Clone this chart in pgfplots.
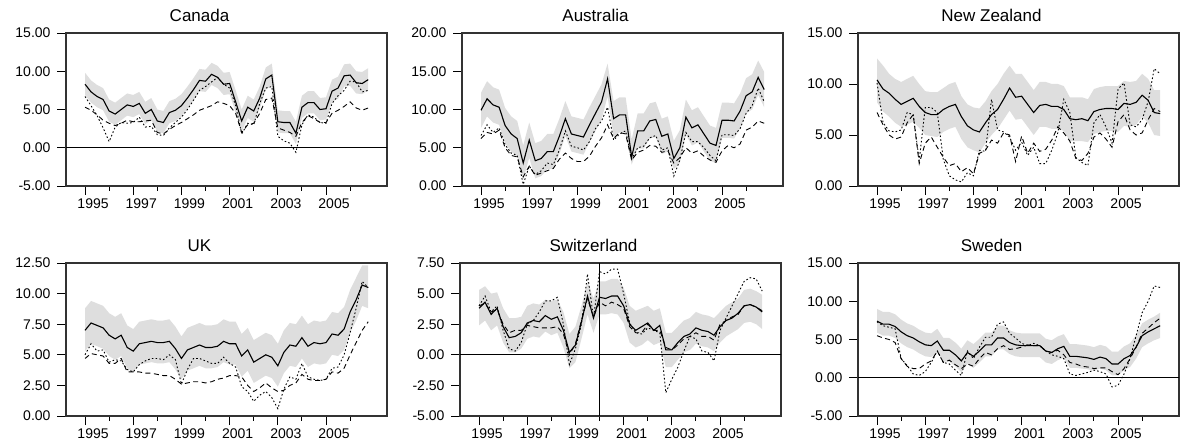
\documentclass[border=0pt]{standalone}
\usepackage{pgfplots}
\pgfplotsset{compat=1.18}
\usepackage{pgfplotstable}
\usepgfplotslibrary{fillbetween}
\usepackage{fontspec}
\setmainfont{Liberation Sans}

% quarterly data 1995Q1 - 2006Q4: band (lo, hi), solid (s), dashed (d), dotted (p)
\pgfplotstableread{
lo hi s d p
6.9 9.8 8.3 5.3 6.7
5.9 8.8 7.3 4.9 5.5
5.3 8.2 6.7 4.3 4.2
4.9 7.8 6.3 3.6 2.6
3.4 6.3 4.8 3.2 0.8
3.0 5.9 4.4 2.9 2.7
3.6 6.5 5.0 3.2 3.3
4.2 7.1 5.6 3.6 3.2
4.0 6.9 5.4 3.4 3.3
4.4 7.3 5.8 3.4 4.0
3.1 6.0 4.5 3.5 2.7
3.6 6.5 5.0 3.6 2.8
2.1 5.0 3.5 2.0 1.7
1.9 4.8 3.3 1.8 1.6
3.2 6.1 4.6 2.4 2.6
3.5 6.4 4.9 2.9 3.3
4.1 7.0 5.5 3.3 4.0
5.1 8.0 6.5 3.8 5.0
6.2 9.1 7.6 4.3 6.2
7.4 10.3 8.8 4.9 7.5
7.3 10.2 8.7 5.2 8.0
8.2 11.1 9.6 5.5 8.6
7.8 10.7 9.2 6.0 9.2
6.9 9.8 8.3 5.8 8.3
7.0 9.9 8.4 5.5 7.8
4.6 7.5 6.0 4.5 5.5
2.1 5.0 3.5 2.0 1.8
3.9 6.8 5.3 3.0 3.2
3.4 6.3 4.8 3.2 3.0
5.1 8.0 6.5 4.5 5.8
7.6 10.5 9.0 6.3 7.8
8.1 11.0 9.5 6.5 8.0
2.0 4.9 3.4 2.6 1.5
1.9 4.8 3.3 2.3 0.9
1.9 4.8 3.3 2.0 0.6
0.5 3.4 1.9 1.5 -0.6
3.9 6.8 5.3 3.3 3.0
4.5 7.4 5.9 4.2 4.3
4.5 7.4 5.9 3.8 4.0
3.6 6.5 5.0 3.3 3.3
3.7 6.6 5.1 3.3 3.2
6.0 8.9 7.4 4.5 5.8
6.4 9.3 7.8 4.9 6.8
8.0 10.9 9.4 5.4 7.5
8.1 11.0 9.5 6.0 8.7
7.1 10.0 8.5 5.2 8.6
7.0 9.9 8.4 4.9 7.3
7.5 10.4 8.9 5.2 7.5
}\canada

\pgfplotstableread{
lo hi s d p
7.6 12.2 9.9 6.2 6.6
9.1 13.7 11.4 7.0 8.0
8.3 12.9 10.6 6.8 7.0
8.0 12.6 10.3 7.3 7.6
5.6 10.2 7.9 5.0 5.4
4.5 9.1 6.8 4.0 4.3
3.9 8.5 6.2 3.8 4.0
0.8 5.3 3.0 1.2 0.2
3.7 8.3 6.0 2.6 2.6
1.0 5.6 3.3 1.4 1.5
1.3 5.9 3.6 1.7 2.0
2.2 6.8 4.5 2.0 3.0
2.2 6.8 4.5 2.3 2.8
4.2 8.8 6.5 3.5 4.7
6.5 11.1 8.8 4.3 7.2
4.5 9.1 6.8 3.6 5.2
4.3 8.9 6.6 3.2 5.0
4.1 8.7 6.4 3.2 4.7
5.7 10.3 8.0 3.9 5.8
7.2 11.8 9.5 5.2 7.5
8.7 13.3 11.0 6.3 8.5
11.7 16.0 14.0 8.0 10.3
6.5 11.1 8.8 6.2 6.0
7.0 11.6 9.3 7.0 6.8
7.0 11.6 9.3 6.8 7.2
2.8 6.1 3.8 3.4 3.5
4.9 9.5 7.2 4.4 5.0
4.9 9.5 7.2 4.7 5.2
6.2 10.8 8.5 5.3 6.3
6.4 11.0 8.7 5.2 6.6
4.2 8.8 6.5 4.4 4.7
4.5 9.1 6.8 4.6 5.0
2.2 5.9 3.6 3.0 1.3
3.0 7.3 5.0 3.7 3.4
6.7 11.3 9.0 5.0 7.0
5.3 9.9 7.6 4.3 5.8
5.7 10.3 8.0 4.6 5.8
4.5 9.1 6.8 3.9 5.0
3.3 7.9 5.6 3.4 4.0
3.0 7.6 5.3 3.1 3.3
6.3 10.9 8.6 4.6 6.7
6.3 10.9 8.6 5.3 6.7
6.2 10.8 8.5 5.0 6.6
7.5 12.1 9.8 5.5 7.5
9.5 14.1 11.8 7.3 9.5
10.0 14.6 12.3 7.7 10.5
11.9 16.4 14.2 8.5 12.8
10.3 14.9 12.6 8.2 11.0
}\australia

\pgfplotstableread{
lo hi s d p
8.2 12.5 10.4 7.2 10.1
7.3 11.8 9.5 6.0 6.2
6.8 11.0 9.1 5.0 5.4
6.2 10.5 8.5 4.6 5.3
5.8 10.2 8.0 4.8 5.5
6.0 10.5 8.3 6.2 7.2
6.3 10.8 8.6 7.0 7.0
5.7 10.0 7.8 2.2 2.5
5.0 9.3 7.2 4.2 7.7
4.9 9.2 7.0 4.8 7.7
4.8 9.2 7.0 3.8 7.2
5.3 9.6 7.5 2.8 2.6
5.6 10.0 7.8 2.0 1.0
5.8 10.2 8.0 2.2 0.6
4.6 8.8 6.8 1.4 0.4
3.8 8.0 5.9 1.8 1.3
3.5 7.7 5.5 1.2 1.0
3.3 7.6 5.3 3.2 3.5
4.2 8.3 6.2 3.5 3.4
5.0 9.3 7.0 4.5 8.5
5.6 10.0 7.5 4.2 5.5
6.5 11.0 8.5 5.2 5.3
7.4 11.8 9.6 5.0 4.8
6.5 11.0 8.7 2.4 3.5
6.6 11.0 8.8 4.9 4.3
5.8 10.2 8.0 3.2 3.0
5.0 9.4 7.2 4.2 3.8
5.8 10.2 7.9 3.4 2.2
5.8 10.2 8.0 3.6 2.2
5.6 10.0 7.8 4.5 3.5
5.6 10.0 7.8 5.8 5.2
5.4 9.8 7.5 5.2 8.5
4.4 8.7 6.6 4.4 7.2
4.4 8.7 6.5 2.7 2.8
4.4 8.7 6.6 2.5 2.3
4.3 8.5 6.4 3.2 2.0
5.1 9.5 7.3 4.8 6.2
5.3 9.7 7.5 5.2 7.0
5.4 9.8 7.6 4.6 5.8
5.4 9.8 7.6 3.8 4.2
5.3 9.8 7.5 6.3 9.5
5.9 10.3 8.1 7.0 10.1
5.8 10.2 8.0 5.5 6.0
6.0 10.3 8.2 5.0 5.8
6.8 11.0 8.9 5.2 6.5
6.2 10.5 8.4 6.5 8.3
5.0 9.4 7.2 7.6 11.5
4.9 9.4 7.1 7.3 11.0
}\newzealand

\pgfplotstableread{
lo hi s d p
5.3 8.8 7.0 4.7 5.0
5.9 9.4 7.6 5.1 5.9
5.7 9.2 7.4 5.0 5.3
5.5 9.0 7.2 4.9 5.4
4.9 8.4 6.6 4.3 4.4
4.6 8.1 6.3 4.3 4.6
4.9 8.4 6.6 4.7 4.5
3.9 7.4 5.6 3.6 3.8
3.6 7.1 5.3 3.6 3.6
4.2 7.7 5.9 3.6 4.2
4.3 7.8 6.0 3.5 4.5
4.4 7.9 6.1 3.5 4.7
4.3 7.8 6.0 3.4 4.7
4.3 7.8 6.0 3.3 4.6
4.4 7.9 6.1 3.3 5.0
3.8 7.3 5.5 3.0 4.6
3.0 6.5 4.7 2.6 2.6
3.7 7.2 5.4 2.7 3.8
3.9 7.4 5.6 2.8 4.7
4.1 7.6 5.8 2.8 4.7
3.9 7.4 5.6 2.7 4.5
3.9 7.4 5.6 2.8 4.3
4.0 7.5 5.7 3.0 4.3
4.4 7.9 6.1 3.1 4.8
4.2 7.7 5.9 3.3 4.3
4.2 7.7 5.9 3.3 4.0
3.2 6.7 4.9 3.2 2.4
3.7 7.2 5.4 2.5 2.0
2.7 6.2 4.4 2.0 1.2
3.0 6.5 4.7 2.3 1.7
3.3 6.8 5.0 2.7 2.0
3.1 6.6 4.8 2.3 1.5
2.4 5.9 4.1 2.0 0.6
3.5 7.0 5.2 2.1 2.2
4.1 7.6 5.8 2.5 3.2
4.0 7.5 5.7 2.7 3.0
4.7 8.2 6.4 3.4 4.3
4.0 7.5 5.7 3.0 3.2
4.3 7.8 6.0 2.9 3.0
4.2 7.7 5.9 2.9 2.9
4.3 7.8 6.0 3.0 3.0
5.0 8.5 6.7 3.6 3.9
4.9 8.4 6.6 3.5 4.0
5.4 8.9 7.1 3.9 5.0
6.8 10.3 8.5 5.0 6.8
7.8 11.3 9.5 6.0 8.8
9.0 12.3 10.7 7.0 11.0
8.8 12.3 10.5 7.7 10.5
}\uk

\pgfplotstableread{
lo hi s d p
2.4 5.3 3.8 4.0 4.0
2.8 5.6 4.3 4.2 4.8
2.0 5.0 3.3 3.5 3.5
2.4 5.1 3.8 3.7 4.0
1.0 3.8 2.3 2.5 2.0
0.2 3.0 1.4 1.8 0.5
0.2 3.0 1.5 2.0 0.3
0.5 3.1 1.8 2.0 1.0
1.3 4.0 2.6 2.4 2.5
1.5 4.2 2.8 2.3 2.8
1.4 4.1 2.7 2.2 3.5
1.9 4.5 3.2 2.2 4.4
1.6 4.4 2.9 2.2 4.4
1.8 4.5 3.1 2.3 4.7
0.6 3.5 2.0 1.7 2.5
-1.1 1.7 0.2 0.0 -0.8
-0.6 2.3 0.8 0.9 0.5
1.3 4.0 2.7 2.8 2.5
3.3 6.0 4.8 4.6 6.6
1.8 4.6 3.0 3.1 3.0
3.3 6.0 4.7 4.3 6.8
3.3 6.0 4.6 4.0 6.6
3.4 6.2 4.8 4.3 7.0
3.3 6.2 4.8 4.1 7.0
2.6 5.5 4.0 3.8 5.0
1.0 4.0 2.5 2.3 2.6
0.6 3.6 2.0 1.8 1.8
0.8 3.8 2.3 1.8 1.7
1.2 4.0 2.6 2.5 2.2
0.8 3.6 2.0 2.0 2.0
1.0 3.8 2.4 2.0 1.8
-1.0 1.8 0.4 0.6 -3.1
-1.0 1.8 0.4 0.4 -2.0
-0.4 2.3 1.0 0.8 -1.0
0.2 2.8 1.5 1.3 0.3
0.4 3.0 1.7 1.5 1.5
0.9 3.5 2.2 1.8 1.3
0.7 3.3 2.0 1.5 0.3
0.6 3.2 1.9 1.5 0.2
0.3 3.0 1.6 1.2 -0.5
1.0 3.5 2.3 2.5 2.0
1.5 4.0 2.8 2.8 3.0
1.8 4.3 3.0 3.1 4.0
2.1 4.6 3.4 3.3 5.0
2.6 5.3 4.0 4.0 6.0
2.7 5.4 4.1 4.1 6.3
2.5 5.2 3.9 3.9 6.2
2.1 4.9 3.5 3.6 5.2
}\switzerland

\pgfplotstableread{
lo hi s d p
5.9 9.0 7.4 5.5 7.3
5.5 8.6 7.0 5.2 6.8
5.5 8.6 7.0 5.0 6.6
5.2 8.3 6.7 4.6 6.4
4.5 7.6 6.0 2.5 2.5
4.0 7.1 5.5 1.5 1.6
3.7 6.8 5.2 1.2 0.5
3.2 6.3 4.7 1.2 0.3
2.8 5.9 4.3 1.8 0.8
2.7 5.8 4.2 2.2 2.0
3.3 6.4 4.8 3.5 3.5
2.1 5.2 3.6 2.0 2.0
2.1 5.2 3.6 2.3 1.8
1.5 4.6 3.0 1.7 1.0
0.7 3.8 2.2 1.2 0.3
1.8 4.9 3.3 1.8 3.5
1.3 4.4 2.8 1.5 2.5
2.0 5.1 3.5 2.5 4.0
2.8 5.9 4.3 3.3 5.3
2.8 5.9 4.3 3.0 5.3
3.7 6.8 5.2 3.8 7.0
3.7 6.8 5.2 4.2 7.3
3.1 6.2 4.6 3.7 5.8
2.8 5.9 4.3 3.8 5.2
2.7 5.8 4.2 4.0 4.5
2.7 5.8 4.2 4.3 4.2
2.7 5.8 4.2 4.2 4.5
2.7 5.8 4.2 4.2 4.2
2.0 5.1 3.5 3.5 3.5
1.8 4.9 3.3 3.3 3.0
2.3 5.4 3.8 3.6 2.8
2.6 5.7 4.1 3.0 2.5
1.3 4.4 2.8 2.0 0.5
1.3 4.4 2.8 1.8 0.3
1.2 4.3 2.7 1.5 0.5
1.1 4.2 2.6 1.4 0.7
0.9 4.0 2.4 1.2 1.0
1.2 4.3 2.7 1.3 0.8
1.0 4.1 2.5 1.3 0.5
0.3 3.4 1.8 0.8 -1.2
0.3 3.4 1.8 0.4 -1.0
1.0 4.1 2.5 1.2 0.5
1.4 4.5 2.9 2.5 2.5
2.5 5.6 4.0 4.0 5.5
4.0 7.1 5.5 5.8 8.5
4.5 7.6 6.0 6.5 10.0
4.9 8.0 6.4 7.2 12.0
5.2 8.5 6.8 7.8 11.8
}\sweden

\pgfplotsset{
  panel/.style={
    scale only axis, width=321pt, height=153pt, anchor=south west,
    xmin=1994.21, xmax=2007.53,
    xtick={1995,1997,...,2005}, minor xtick={1996,1998,...,2006},
    tick pos=left, tick align=outside,
    major tick length=9pt, minor tick length=5pt,
    every tick/.style={black, line width=0.9pt},
    axis line style={black!80, line width=1.1pt},
    /pgf/number format/assume math mode=true,
    tick label style={font=\fontsize{14}{16}\selectfont, black},
    xticklabel style={xshift=8pt, /pgf/number format/1000 sep={}},
    yticklabel style={xshift=-3pt, /pgf/number format/.cd, fixed, fixed zerofill, precision=2},
    title style={font=\fontsize{17}{20}\selectfont, xshift=-27pt, yshift=2pt},
  },
  band/.style={fill=black!13, draw=none},
  sol/.style={black, line width=1.1pt},
  dsh/.style={black, line width=0.9pt, dash pattern=on 5pt off 3.5pt},
  dot/.style={black, line width=0.9pt, dash pattern=on 1.6pt off 2.2pt},
}

\newcommand{\bandplot}[1]{%
  \addplot[draw=none, name path=lo] table[x expr=1995+\coordindex/4, y=lo] {#1};
  \addplot[draw=none, name path=hi] table[x expr=1995+\coordindex/4, y=hi] {#1};
  \addplot[band] fill between[of=lo and hi];
}
\newcommand{\lineplots}[1]{%
  \addplot[dsh] table[x expr=1995+\coordindex/4, y=d] {#1};
  \addplot[dot] table[x expr=1995+\coordindex/4, y=p] {#1};
  \addplot[sol] table[x expr=1995+\coordindex/4, y=s] {#1};
}

\begin{document}
\begin{tikzpicture}

\begin{axis}[panel, at={(66pt,261pt)}, title={Canada},
  ymin=-5, ymax=15, ytick={-5,0,5,10,15}]
  \bandplot{\canada}
  \addplot[black, line width=0.9pt] coordinates {(1994,0) (2008,0)};
  \lineplots{\canada}
\end{axis}

\begin{axis}[panel, at={(462pt,261pt)}, title={Australia},
  ymin=0, ymax=20, ytick={0,5,10,15,20}]
  \bandplot{\australia}
  \lineplots{\australia}
\end{axis}

\begin{axis}[panel, at={(858pt,261pt)}, title={New Zealand},
  ymin=0, ymax=15, ytick={0,5,10,15}]
  \bandplot{\newzealand}
  \lineplots{\newzealand}
\end{axis}

\begin{axis}[panel, at={(66pt,31pt)}, title={UK},
  ymin=0, ymax=12.5, ytick={0,2.5,5,7.5,10,12.5}]
  \bandplot{\uk}
  \lineplots{\uk}
\end{axis}

\begin{axis}[panel, at={(460pt,31pt)}, title={Switzerland},
  ymin=-5, ymax=7.5, ytick={-5,-2.5,0,2.5,5,7.5}]
  \bandplot{\switzerland}
  \addplot[black, line width=0.9pt] coordinates {(1994,0) (2008,0)};
  \addplot[black, line width=0.9pt] coordinates {(2000,-5) (2000,7.5)};
  \lineplots{\switzerland}
\end{axis}

\begin{axis}[panel, at={(858pt,31pt)}, title={Sweden},
  ymin=-5, ymax=15, ytick={-5,0,5,10,15}]
  \bandplot{\sweden}
  \addplot[black, line width=0.9pt] coordinates {(1994,0) (2008,0)};
  \lineplots{\sweden}
\end{axis}

\pgfresetboundingbox
\useasboundingbox (0,0) rectangle (1181pt,447pt);
\end{tikzpicture}
\end{document}
